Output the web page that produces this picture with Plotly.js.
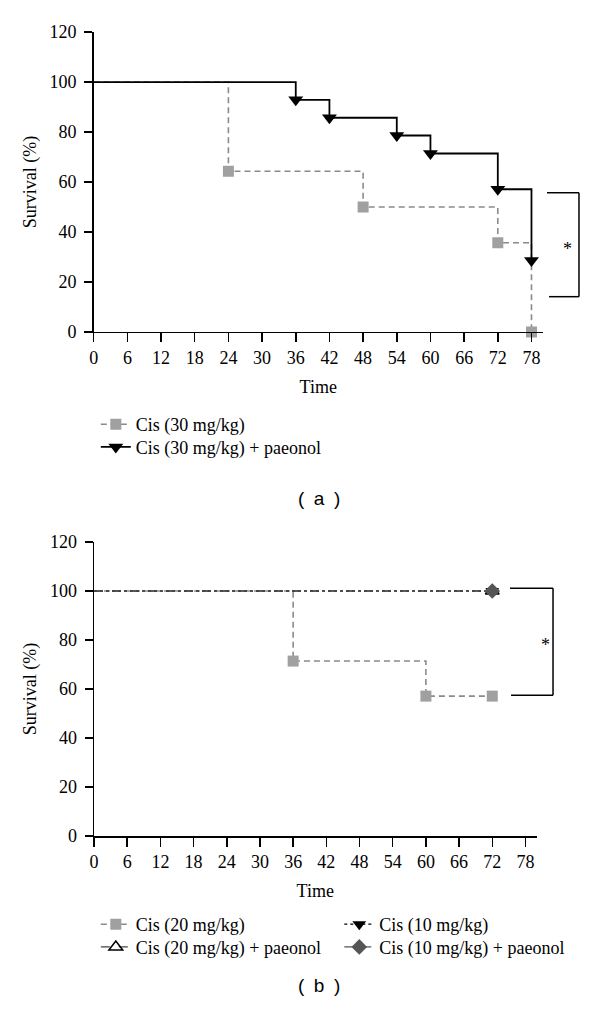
<!DOCTYPE html>
<html><head><meta charset="utf-8">
<script src="https://cdn.plot.ly/plotly-3.0.1.min.js"></script>
<style>body{margin:0;padding:0;background:#fff}</style>
</head><body>
<div id="chart" style="width:600px;height:1014px"></div>
<script>
// ---------- Data: panel (a) ----------
const timeCis30 = [0, 24, 48, 72, 78];
const survCis30 = [100, 64.3, 50, 35.7, 0];
const timeCis30Pae = [0, 36, 42, 54, 60, 72, 78];
const survCis30Pae = [100, 92.9, 85.7, 78.6, 71.4, 57.1, 28.6];
// ---------- Data: panel (b) ----------
const timeCis20 = [0, 36, 60, 72];
const survCis20 = [100, 71.4, 57.1, 57.1];
const timeCis20Pae = [0, 72];
const survCis20Pae = [100, 100];
const timeCis10 = [0, 72];
const survCis10 = [100, 100];
const timeCis10Pae = [0, 72];
const survCis10Pae = [100, 100];
// ---------- Ticks & labels ----------
const xTicks = [0, 6, 12, 18, 24, 30, 36, 42, 48, 54, 60, 66, 72, 78];
const yTicks = [0, 20, 40, 60, 80, 100, 120];
const namesA = ['Cis (30 mg/kg)', 'Cis (30 mg/kg) + paeonol'];
const namesB = ['Cis (20 mg/kg)', 'Cis (20 mg/kg) + paeonol', 'Cis (10 mg/kg)', 'Cis (10 mg/kg) + paeonol'];

const SERIF = 'Liberation Serif, Times New Roman, serif';
const traces = [];
function addSeries(t, s, name, xa, ya, leg, lineStyle, markerStyle) {
  traces.push({x: t, y: s, xaxis: xa, yaxis: ya, mode: 'lines', line: Object.assign({shape: 'hv'}, lineStyle),
    showlegend: false, hoverinfo: 'skip', cliponaxis: false});
  traces.push({x: t.slice(1), y: s.slice(1), xaxis: xa, yaxis: ya, mode: 'markers', marker: markerStyle,
    showlegend: false, cliponaxis: false});
  traces.push({x: [null], y: [null], xaxis: xa, yaxis: ya, mode: 'lines+markers', name: name, legend: leg,
    line: lineStyle, marker: markerStyle, showlegend: true});
}
const grayLine = {color: '#8a8a8a', width: 1.6, dash: '6px,4px'};
const graySq = {symbol: 'square', size: 11, color: '#a0a0a0'};

addSeries(timeCis30, survCis30, namesA[0], 'x', 'y', 'legend', grayLine, graySq);
addSeries(timeCis30Pae, survCis30Pae, namesA[1], 'x', 'y', 'legend2',
  {color: '#000', width: 1.8}, {symbol: 'triangle-down', size: 13, color: '#000'});

addSeries(timeCis20, survCis20, namesB[0], 'x2', 'y2', 'legend3', grayLine, graySq);
addSeries(timeCis20Pae, survCis20Pae, namesB[1], 'x2', 'y2', 'legend4',
  {color: '#444', width: 1.3, dash: 'dash'}, {symbol: 'triangle-up-open', size: 12, color: '#000', line: {width: 1.5, color: '#000'}});
addSeries(timeCis10, survCis10, namesB[2], 'x2', 'y2', 'legend5',
  {color: '#000', width: 1.3, dash: 'dot'}, {symbol: 'triangle-down', size: 12, color: '#000'});
addSeries(timeCis10Pae, survCis10Pae, namesB[3], 'x2', 'y2', 'legend6',
  {color: '#555', width: 1.3, dash: 'dashdot'}, {symbol: 'diamond', size: 12, color: '#555'});

function xAxis(domain, anchor) {
  return {domain: domain, anchor: anchor, range: [0, 80], tickvals: xTicks, showline: true, linecolor: '#000', linewidth: 1.5,
    ticks: 'outside', ticklen: 9, tickwidth: 1.5, tickcolor: '#000', showgrid: false, zeroline: false,
    tickfont: {family: SERIF, size: 18, color: '#000'}, ticklabelstandoff: 0, automargin: true,
    title: {text: 'Time', font: {family: SERIF, size: 18, color: '#000'}, standoff: 13}, fixedrange: true};
}
function yAxis(domain, anchor) {
  return {domain: domain, anchor: anchor, range: [0, 120], tickvals: yTicks, showline: true, linecolor: '#000', linewidth: 1.5,
    ticks: 'outside', ticklen: 8, tickwidth: 1.5, tickcolor: '#000', showgrid: false, zeroline: false,
    tickfont: {family: SERIF, size: 18, color: '#000'}, ticklabelstandoff: 4, automargin: true,
    title: {text: 'Survival (%)', font: {family: SERIF, size: 18, color: '#000'}, standoff: 8}, fixedrange: true};
}
function bracket(xr, yr, x0, x1, xb, y0, y1) {
  const base = {type: 'line', xref: xr, yref: yr, line: {color: '#000', width: 1.5}};
  return [
    Object.assign({}, base, {x0: x0, x1: x1, y0: y0, y1: y0}),
    Object.assign({}, base, {x0: x1, x1: x1, y0: y0, y1: y1}),
    Object.assign({}, base, {x0: xb, x1: x1, y0: y1, y1: y1})
  ];
}
const legendFont = {family: SERIF, size: 18, color: '#000'};
function leg(x, y) {
  return {x: x, y: y, xanchor: 'left', yanchor: 'top', font: legendFont, bgcolor: 'rgba(0,0,0,0)', itemwidth: 30};
}
const layout = {
  width: 600, height: 1014, margin: {l: 0, r: 0, t: 0, b: 0, autoexpand: false},
  paper_bgcolor: '#fff', plot_bgcolor: '#fff', showlegend: true,
  xaxis: xAxis([0.1562, 0.9045], 'y'),
  yaxis: yAxis([0.6726, 0.9684], 'x'),
  xaxis2: xAxis([0.1567, 0.8942], 'y2'),
  yaxis2: yAxis([0.1755, 0.4655], 'x2'),
  legend: leg(0.1597, 0.5996),
  legend2: leg(0.1597, 0.5772),
  legend3: leg(0.1597, 0.1065),
  legend4: leg(0.1597, 0.0841),
  legend5: leg(0.5655, 0.1065),
  legend6: leg(0.5655, 0.0841),
  shapes: [].concat(
    bracket('x domain', 'y domain', 1.0096, 1.0808, 1.0141, 0.4643, 0.1177),
    bracket('x2 domain', 'y2 domain', 0.9401, 1.0373, 0.9424, 0.8425, 0.4786)
  ),
  annotations: [
    {xref: 'x domain', yref: 'y domain', x: 1.07, y: 0.237, text: '*', showarrow: false, font: {family: SERIF, size: 18, color: '#000'}},
    {xref: 'x2 domain', yref: 'y2 domain', x: 1.036, y: 0.65, text: '*', showarrow: false, font: {family: SERIF, size: 18, color: '#000'}},
    {xref: 'paper', yref: 'paper', x: 0.532, y: 1 - 498/1014, text: '(\u2002a\u2002)', showarrow: false, font: {family: 'Liberation Sans, Arial, sans-serif', size: 19, color: '#000'}},
    {xref: 'paper', yref: 'paper', x: 0.532, y: 1 - 998/1014, text: '(\u2002b\u2002)', showarrow: false, font: {family: 'Liberation Sans, Arial, sans-serif', size: 19, color: '#000'}}
  ]
};
Plotly.newPlot('chart', traces, layout, {displayModeBar: false, staticPlot: true});
</script>
</body></html>
